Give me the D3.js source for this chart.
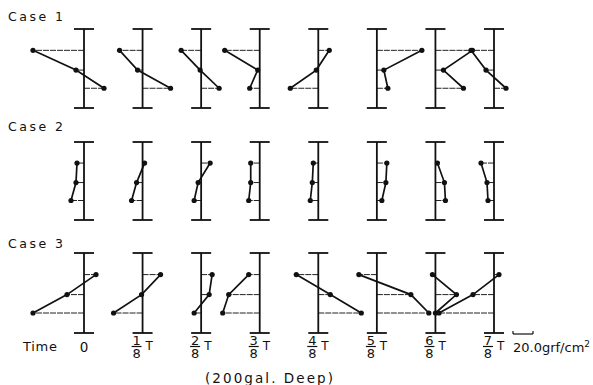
<!DOCTYPE html>
<html>
<head>
<meta charset="utf-8">
<script src="https://cdn.jsdelivr.net/npm/d3@7"></script>
<style>
  body { margin: 0; background: #fff; }
  text { font-family: "DejaVu Sans", sans-serif; fill: #111; }
</style>
</head>
<body>
<svg id="chart" width="593" height="385"></svg>
<script>
// time steps (fraction of period T, numerator over 8)
var timeSteps = [0, 1, 2, 3, 4, 5, 6, 7];
// relative depth of the three pressure gauges (0 = tank top, 1 = tank bottom)
var gaugeLevels = [0.27, 0.52, 0.75];
var caseNames = ["Case 1", "Case 2", "Case 3"];

// pressure (grf/cm2) at top / middle / bottom gauge, one triple per time step
var case1 = [[-51, -8, 20], [-23, -5, 28], [-20, -1, 18], [-35, -2, -10],
             [11, -2, -28], [45, 7, 11], [37, 8, 28], [-23, -8, 12]];
var case2 = [[-7, -8, -13], [2, -6, -11], [9, -3, -7], [-9, -9, -11],
             [-5, -6, -8], [10, 9, 5], [2, 9, 10], [-13, -7, -6]];
var case3 = [[12, -17, -51], [18, -1, -29], [11, 8, -7], [-11, -31, -37],
             [-22, 12, 43], [-18, 34, 52], [-3, 21, 0], [5, -21, -55]];

var scaleValue = 20.0;

var svg = d3.select("#chart");

// panel (time) positions and tank extents for each case
var xTime = d3.scaleLinear().domain([0, 7]).range([84, 494]);
var p = d3.scaleLinear().domain([-20, 20]).range([-20, 20]); // 1 px per grf/cm2
var tanks = [
  {data: case1, top: 29, bottom: 108, label: 21},
  {data: case2, top: 142, bottom: 220, label: 131},
  {data: case3, top: 253, bottom: 333, label: 248}
];

tanks.forEach(function(tank, ci) {
  var y = d3.scaleLinear().domain([0, 1]).range([tank.top, tank.bottom]);

  svg.append("text")
    .attr("x", 8)
    .attr("y", tank.label)
    .attr("textLength", 55)
    .attr("lengthAdjust", "spacing")
    .style("font-size", "12.5px")
    .text(caseNames[ci]);

  tank.data.forEach(function(vals, ti) {
    var x0 = xTime(timeSteps[ti]);
    var g = svg.append("g");

    // thin gauge lines from the wall to each value
    g.selectAll("line.gauge")
      .data(vals)
      .enter()
      .append("line")
      .attr("class", "gauge")
      .attr("x1", x0)
      .attr("x2", function(d) { return x0 + p(d); })
      .attr("y1", function(d, i) { return y(gaugeLevels[i]); })
      .attr("y2", function(d, i) { return y(gaugeLevels[i]); })
      .attr("stroke", "#222")
      .attr("stroke-width", 1)
      .attr("stroke-dasharray", "6,1");

    // tank wall with end caps
    g.append("line")
      .attr("x1", x0).attr("x2", x0)
      .attr("y1", y(0)).attr("y2", y(1))
      .attr("stroke", "#111").attr("stroke-width", 1.8);
    [0, 1].forEach(function(e) {
      g.append("line")
        .attr("x1", x0 - 10).attr("x2", x0 + 10)
        .attr("y1", y(e)).attr("y2", y(e))
        .attr("stroke", "#111").attr("stroke-width", 1.8);
    });

    // pressure profile
    var line = d3.line()
      .x(function(d) { return x0 + p(d); })
      .y(function(d, i) { return y(gaugeLevels[i]); });
    g.append("path")
      .datum(vals)
      .attr("d", line)
      .attr("fill", "none")
      .attr("stroke", "#111")
      .attr("stroke-width", 1.7);

    g.selectAll("circle")
      .data(vals)
      .enter()
      .append("circle")
      .attr("cx", function(d) { return x0 + p(d); })
      .attr("cy", function(d, i) { return y(gaugeLevels[i]); })
      .attr("r", 2.6)
      .attr("fill", "#111");
  });
});

// time labels under case 3
svg.append("text")
  .attr("x", 23).attr("y", 351)
  .attr("textLength", 34).attr("lengthAdjust", "spacing")
  .style("font-size", "13px")
  .text("Time");

timeSteps.forEach(function(t) {
  var x0 = xTime(t);
  if (t == 0) {
    svg.append("text")
      .attr("x", x0).attr("y", 352)
      .attr("text-anchor", "middle")
      .style("font-size", "13.5px")
      .text("0");
    return;
  }
  var cx = x0 - 6;
  svg.append("text")
    .attr("x", cx).attr("y", 344.5)
    .attr("text-anchor", "middle")
    .style("font-size", "13px")
    .text(t);
  svg.append("line")
    .attr("x1", cx - 5).attr("x2", cx + 5)
    .attr("y1", 346.5).attr("y2", 346.5)
    .attr("stroke", "#111").attr("stroke-width", 1.2);
  svg.append("text")
    .attr("x", cx).attr("y", 358)
    .attr("text-anchor", "middle")
    .style("font-size", "13px")
    .text("8");
  svg.append("text")
    .attr("x", x0 + 3).attr("y", 350)
    .style("font-size", "12px")
    .text("T");
});

// scale bar
var sx = 513, sy = 334;
svg.append("line")
  .attr("x1", sx).attr("x2", sx + p(scaleValue) - p(0))
  .attr("y1", sy).attr("y2", sy)
  .attr("stroke", "#111").attr("stroke-width", 1.2);
[0, scaleValue].forEach(function(v) {
  svg.append("line")
    .attr("x1", sx + p(v) - p(0)).attr("x2", sx + p(v) - p(0))
    .attr("y1", sy - 3).attr("y2", sy)
    .attr("stroke", "#111").attr("stroke-width", 1.2);
});
var st = svg.append("text")
  .attr("x", sx).attr("y", 352)
  .style("font-size", "13px");
st.append("tspan").text(scaleValue.toFixed(1) + "grf/cm");
st.append("tspan").attr("dy", -5).style("font-size", "9px").text("2");

svg.append("text")
  .attr("x", 205).attr("y", 383)
  .attr("textLength", 128).attr("lengthAdjust", "spacing")
  .style("font-size", "13.5px")
  .text("(200gal. Deep)");
</script>
</body>
</html>
